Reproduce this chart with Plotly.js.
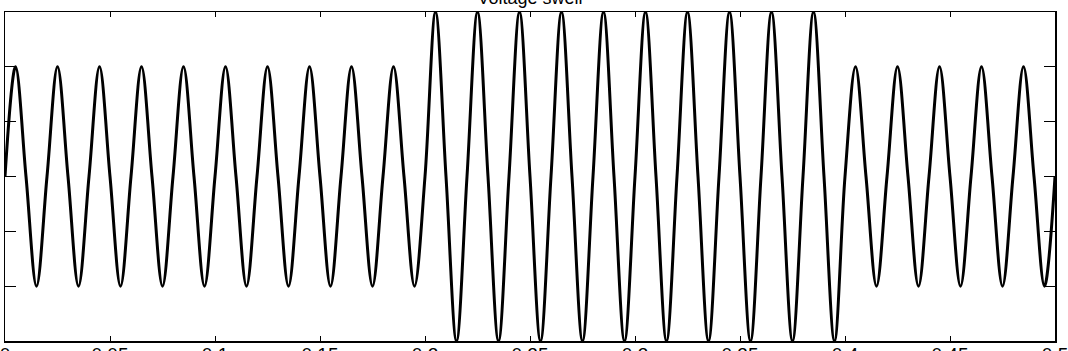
<!DOCTYPE html>
<html>
<head>
<meta charset="utf-8">
<script src="https://cdn.plot.ly/plotly-3.0.1.min.js"></script>
<style>html,body{margin:0;padding:0;background:#fff;}#chart{width:1068px;height:351px;}</style>
</head>
<body>
<div id="chart"></div>
<script>
// Time points (s): zero crossings and peaks
var timeS = [
  0, 0.005, 0.01, 0.015, 0.02, 0.025, 0.03, 0.035, 0.04, 0.045,
  0.05, 0.055, 0.06, 0.065, 0.07, 0.075, 0.08, 0.085, 0.09, 0.095,
  0.1, 0.105, 0.11, 0.115, 0.12, 0.125, 0.13, 0.135, 0.14, 0.145,
  0.15, 0.155, 0.16, 0.165, 0.17, 0.175, 0.18, 0.185, 0.19, 0.195,
  0.2, 0.205, 0.21, 0.215, 0.22, 0.225, 0.23, 0.235, 0.24, 0.245,
  0.25, 0.255, 0.26, 0.265, 0.27, 0.275, 0.28, 0.285, 0.29, 0.295,
  0.3, 0.305, 0.31, 0.315, 0.32, 0.325, 0.33, 0.335, 0.34, 0.345,
  0.35, 0.355, 0.36, 0.365, 0.37, 0.375, 0.38, 0.385, 0.39, 0.395,
  0.4, 0.405, 0.41, 0.415, 0.42, 0.425, 0.43, 0.435, 0.44, 0.445,
  0.45, 0.455, 0.46, 0.465, 0.47, 0.475, 0.48, 0.485, 0.49, 0.495,
  0.5
];
// Voltage (p.u.) at those points
var voltage = [
  0, 1, 0, -1, 0, 1, 0, -1, 0, 1,
  0, -1, 0, 1, 0, -1, 0, 1, 0, -1,
  0, 1, 0, -1, 0, 1, 0, -1, 0, 1,
  0, -1, 0, 1, 0, -1, 0, 1, 0, -1,
  0, 1.5, 0, -1.5, 0, 1.5, 0, -1.5, 0, 1.5,
  0, -1.5, 0, 1.5, 0, -1.5, 0, 1.5, 0, -1.5,
  0, 1.5, 0, -1.5, 0, 1.5, 0, -1.5, 0, 1.5,
  0, -1.5, 0, 1.5, 0, -1.5, 0, 1.5, 0, -1.5,
  0, 1, 0, -1, 0, 1, 0, -1, 0, 1,
  0, -1, 0, 1, 0, -1, 0, 1, 0, -1,
  0
];
var xTicks = [0, 0.05, 0.1, 0.15, 0.2, 0.25, 0.3, 0.35, 0.4, 0.45, 0.5];
var xTickLabels = ['0', '0.05', '0.1', '0.15', '0.2', '0.25', '0.3', '0.35', '0.4', '0.45', '0.5'];
var yTicks = [-1.5, -1, -0.5, 0, 0.5, 1, 1.5];
var chartTitle = 'Voltage swell';

var trace = {
  x: timeS, y: voltage, type: 'scatter', mode: 'lines',
  line: {color: '#000', width: 3, shape: 'spline', smoothing: 1},
  hoverinfo: 'skip'
};
var layout = {
  width: 1068, height: 351,
  margin: {l: 5, r: 13, t: 12, b: 10},
  paper_bgcolor: '#fff', plot_bgcolor: '#fff',
  showlegend: false,
  font: {family: 'Liberation Sans, Arial, sans-serif', color: '#000', size: 19},
  title: {text: chartTitle, x: 0.4963, xanchor: 'center', y: 1, yanchor: 'top', pad: {t: -9},
          font: {size: 18, color: '#000'}},
  xaxis: {
    range: [0, 0.5], tickmode: 'array', tickvals: xTicks, ticktext: xTickLabels,
    ticks: 'inside', ticklen: 5, tickwidth: 1, tickcolor: '#000',
    showline: true, linecolor: '#000', linewidth: 1.5, mirror: 'ticks',
    showgrid: false, zeroline: false, tickfont: {size: 19, color: '#000'},
    ticklabelstandoff: -4, ticklabeloverflow: 'allow'
  },
  yaxis: {
    range: [-1.5, 1.5], tickmode: 'array', tickvals: yTicks, showticklabels: false,
    ticks: 'inside', ticklen: 11, tickwidth: 1, tickcolor: '#000',
    showline: true, linecolor: '#000', linewidth: 1.5, mirror: 'ticks',
    showgrid: false, zeroline: false
  }
};
Plotly.newPlot('chart', [trace], layout, {staticPlot: true, displayModeBar: false});
</script>
</body>
</html>
